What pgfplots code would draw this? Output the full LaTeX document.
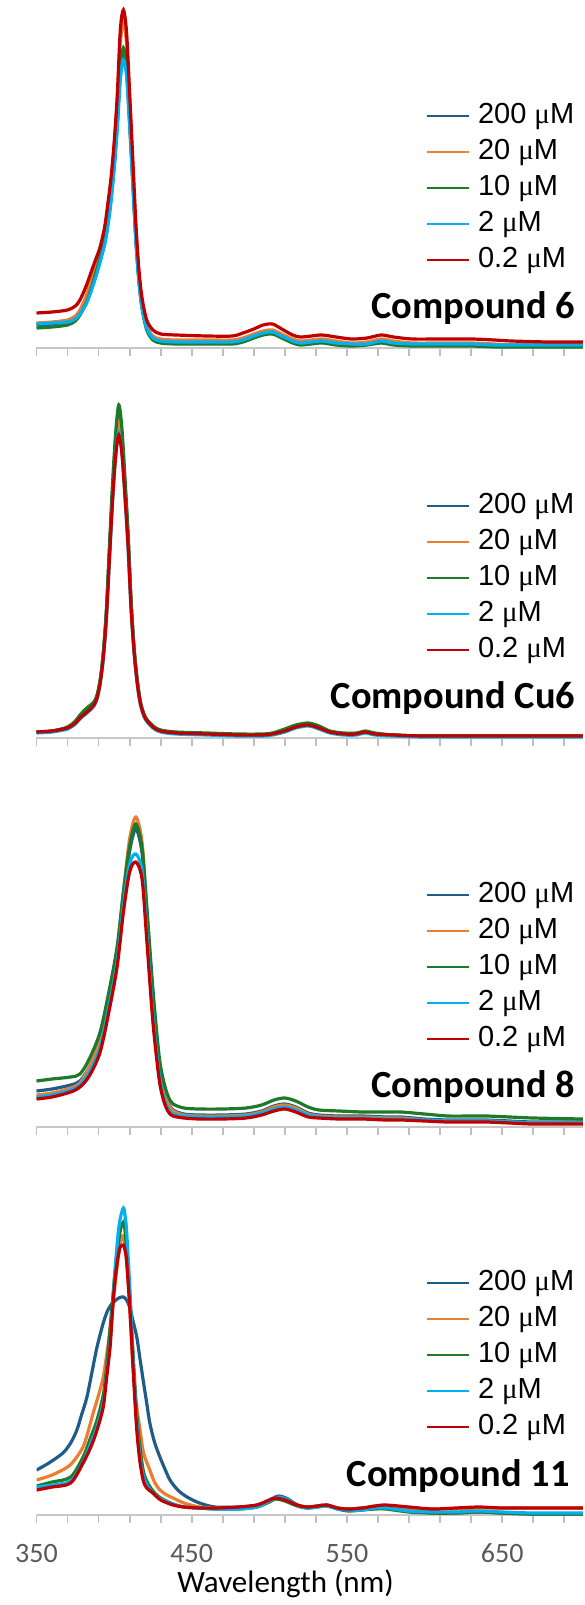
\documentclass[border=0pt]{standalone}
\usepackage{pgfplots}
\pgfplotsset{compat=1.18}
\usepackage{fontspec}
\setmainfont{Carlito}
\newfontfamily\arial{Liberation Sans}
\newfontfamily\tnr{Liberation Serif}

\definecolor{c200}{HTML}{1F5C87}
\definecolor{c20}{HTML}{ED7D31}
\definecolor{c10}{HTML}{1E7A28}
\definecolor{c2}{HTML}{00B0F0}
\definecolor{c02}{HTML}{C00000}

\tikzset{lab/.style={font=\bfseries\fontsize{19.2}{22}\selectfont, anchor=base east}}

\pgfplotsset{
  spec/.style={
    scale only axis, width=273.2pt, height=170pt,
    xmin=350, xmax=702, ymin=0, ymax=340,
    axis x line*=bottom, axis y line=none,
    x axis line style={draw=black!22, line width=0.9pt},
    tick style={draw=black!25, line width=0.9pt},
    % ticks point down (outward); labels placed from the axis line itself
    tick align=inside, major tick length=-4pt, minor tick length=-4pt,
    xtick={350,450,550,650}, minor xtick={370,390,410,430,470,490,510,530,570,590,610,630,670,690},
    xticklabels={}, ytick=\empty,
    /pgf/number format/assume math mode=true,
    xticklabel style={font=\fontsize{14}{16}\selectfont, text=black!65, anchor=base, yshift=-23.5pt},
    legend entries={200 {\tnr μ}M, 20 {\tnr μ}M, 10 {\tnr μ}M, 2 {\tnr μ}M, 0.2 {\tnr μ}M},
    legend image code/.code={\draw[##1, line width=1.1pt] (0pt,0pt) -- (21pt,0pt);},
    legend style={at={(0.7125,0.735)}, anchor=north west, draw=none, fill=none,
      inner sep=0pt, outer sep=0pt, row sep=0pt,
      font=\arial\fontsize{14.5}{18}\selectfont,
      nodes={inner sep=0pt, text height=12.5pt, text depth=5.5pt},
      /tikz/every odd column/.append style={column sep=4pt}},
    legend cell align=left,
    every axis plot/.append style={line width=1.6pt, smooth, tension=0.5},
  },
}

\begin{document}
\begin{tikzpicture}
\useasboundingbox (-18.25pt,0pt) rectangle (273.75pt,-802.5pt);

% ---------------- Compound 6
\begin{axis}[spec, at={(0pt,-174pt)}, anchor=south west]
\addplot[c200] coordinates {(350,23)(360,24)(370,26)(375,29)(378,34)(382,45)(385,57)(388,72)(391,88)(394,106)(396,125)(398,150)(400,182)(402,224)(404,276)(406,293)(408,278)(410,226)(412,168)(414,110)(416,68)(418,41)(421,21)(425,11)(430,8)(440,7)(460,7)(476,7)(483,9)(490,13)(496,16)(502,17)(508,13)(515,8)(520,6)(527,7)(534,8)(543,6)(553,4)(563,5)(572,8)(580,6)(592,4)(610,4)(630,4)(645,3)(656,3)(680,3)(702,3)};
\addplot[c20] coordinates {(350,25)(360,26)(370,28)(375,32)(378,38)(382,52)(385,68)(388,84)(391,98)(394,118)(396,140)(398,165)(400,200)(402,245)(404,305)(406,326)(408,305)(410,248)(412,185)(414,120)(416,73)(418,45)(421,22)(425,12)(430,9)(440,8)(460,8)(476,8)(483,10)(490,14)(496,17)(502,18)(508,14)(515,9)(520,7)(527,8)(534,9)(543,7)(553,5)(563,6)(572,9)(580,7)(592,5)(610,5)(630,5)(645,4)(656,3)(680,3)(702,3)};
\addplot[c10] coordinates {(350,20)(360,21)(370,23)(375,27)(378,33)(382,45)(385,58)(388,74)(391,90)(394,108)(396,128)(398,152)(400,185)(402,225)(404,280)(406,300)(408,282)(410,228)(412,170)(414,110)(416,68)(418,40)(421,18)(425,8)(430,5)(440,4)(460,4)(476,4)(483,6)(490,10)(496,13)(502,14)(508,10)(515,5)(520,3)(527,4)(534,5)(543,3)(553,2)(563,3)(572,5)(580,3)(592,2)(610,2)(630,2)(645,1)(656,1)(680,1)(702,1)};
\addplot[c2] coordinates {(350,24)(360,25)(370,26)(375,29)(378,34)(382,44)(385,56)(388,70)(391,86)(394,104)(396,122)(398,146)(400,178)(402,218)(404,268)(406,288)(408,272)(410,222)(412,165)(414,108)(416,66)(418,40)(421,20)(425,10)(430,7)(440,6)(460,6)(476,6)(483,8)(490,12)(496,15)(502,16)(508,12)(515,7)(520,5)(527,6)(534,7)(543,5)(553,4)(563,4)(572,7)(580,5)(592,4)(610,4)(630,4)(645,3)(656,3)(680,3)(702,3)};
\addplot[c02] coordinates {(350,35)(360,36)(370,38)(375,42)(378,48)(382,62)(385,75)(388,88)(391,101)(394,122)(396,145)(398,170)(400,205)(402,252)(404,318)(406,338)(408,316)(410,255)(412,190)(414,125)(416,78)(418,50)(421,28)(425,18)(430,14)(440,13)(460,12)(476,12)(483,15)(490,19)(496,23)(502,24)(508,19)(515,13)(520,11)(527,12)(534,13)(543,11)(553,9)(563,10)(572,13)(580,11)(592,9)(610,9)(630,9)(645,8)(656,7)(680,6)(702,6)};
\node[lab] at (axis cs:701.5,30) {Compound 6};
\end{axis}

% ---------------- Compound Cu6
\begin{axis}[spec, at={(0pt,-369pt)}, anchor=south west]
\addplot[c200] coordinates {(350,6)(360,7)(370,10)(375,16)(378,22)(381,26)(384,30)(387,35)(389,42)(391,57)(393,83)(395,125)(397,187)(399,247)(401,295)(403,325)(405,302)(407,253)(409,200)(411,133)(413,86)(415,56)(417,35)(420,21)(425,12)(430,7)(440,5)(460,4)(480,3)(495,3)(502,4)(510,8)(517,12)(525,14)(532,11)(539,6)(548,4)(556,4)(562,6)(568,4)(580,3)(600,2)(650,2)(702,2)};
\addplot[c20] coordinates {(350,6)(360,7)(370,10)(375,15)(378,21)(381,25)(384,29)(387,34)(389,41)(391,56)(393,81)(395,122)(397,184)(399,243)(401,292)(403,316)(405,297)(407,250)(409,198)(411,132)(413,86)(415,55)(417,35)(420,21)(425,11)(430,7)(440,5)(460,4)(480,3)(495,3)(502,4)(510,7)(517,11)(525,13)(532,10)(539,6)(548,4)(556,4)(562,6)(568,4)(580,3)(600,2)(650,2)(702,2)};
\addplot[c10] coordinates {(350,6)(360,7)(370,11)(375,17)(378,23)(381,28)(384,32)(387,36)(389,43)(391,58)(393,85)(395,128)(397,192)(399,255)(401,305)(403,333)(405,310)(407,260)(409,205)(411,136)(413,88)(415,57)(417,36)(420,21)(425,12)(430,8)(440,6)(460,5)(480,4)(495,4)(502,5)(510,9)(517,13)(525,15)(532,12)(539,7)(548,5)(556,5)(562,7)(568,5)(580,3)(600,2)(650,2)(702,2)};
\addplot[c2] coordinates {(350,5)(360,6)(370,9)(375,14)(378,19)(381,23)(384,27)(387,32)(389,39)(391,54)(393,79)(395,119)(397,178)(399,236)(401,282)(403,305)(405,286)(407,241)(409,190)(411,127)(413,83)(415,53)(417,33)(420,19)(425,10)(430,6)(440,4)(460,3)(480,2)(495,2)(502,3)(510,6)(517,10)(525,12)(532,9)(539,5)(548,3)(556,3)(562,5)(568,3)(580,2)(600,1)(650,1)(702,1)};
\addplot[c02] coordinates {(350,6)(360,7)(370,10)(375,15)(378,20)(381,24)(384,28)(387,33)(389,40)(391,55)(393,80)(395,120)(397,180)(399,238)(401,282)(403,303)(405,285)(407,242)(409,192)(411,128)(413,84)(415,54)(417,34)(420,20)(425,11)(430,7)(440,5)(460,4)(480,3)(495,3)(502,4)(510,7)(517,11)(525,13)(532,10)(539,6)(548,4)(556,4)(562,6)(568,4)(580,3)(600,2)(650,2)(702,2)};
\node[lab] at (axis cs:701.5,30) {Compound Cu6};
\end{axis}

% ---------------- Compound 8
\begin{axis}[spec, at={(0pt,-563.5pt)}, anchor=south west]
\addplot[c200] coordinates {(350,36)(360,38)(372,42)(378,46)(384,60)(391,86)(397,128)(402,172)(406,228)(410,276)(414,298)(418,274)(421,212)(425,126)(429,62)(432,38)(435,24)(438,17)(445,13)(455,12)(470,12)(485,13)(495,16)(503,21)(510,23)(517,20)(525,14)(532,12)(545,11)(560,11)(575,10)(585,10)(600,8)(615,7)(630,7)(640,7)(655,6)(670,5)(702,5)};
\addplot[c20] coordinates {(350,32)(360,34)(372,39)(378,44)(384,60)(391,88)(397,132)(402,178)(406,235)(410,288)(414,310)(418,285)(421,220)(425,130)(429,62)(432,37)(435,23)(438,16)(445,12)(455,11)(470,11)(485,12)(495,15)(503,20)(510,22)(517,19)(525,13)(532,11)(545,10)(560,10)(575,9)(585,9)(600,7)(615,6)(630,6)(640,6)(655,5)(670,4)(702,4)};
\addplot[c10] coordinates {(350,46)(360,48)(372,50)(378,53)(384,68)(391,95)(397,138)(402,181)(406,235)(410,281)(414,303)(418,279)(421,221)(425,138)(429,71)(432,45)(435,30)(438,23)(445,19)(455,18)(470,18)(485,19)(495,22)(503,27)(510,29)(517,26)(525,20)(532,17)(545,16)(560,15)(575,15)(585,15)(600,13)(615,11)(630,11)(640,11)(655,10)(670,9)(702,8)};
\addplot[c2] coordinates {(350,30)(360,32)(372,37)(378,42)(384,55)(391,80)(397,123)(402,166)(406,222)(410,263)(414,273)(418,256)(421,196)(425,112)(429,53)(432,30)(435,18)(438,13)(445,11)(455,10)(470,10)(485,11)(495,14)(503,18)(510,20)(517,17)(525,12)(532,10)(545,9)(560,9)(575,8)(585,8)(600,7)(615,6)(630,6)(640,6)(655,5)(670,4)(702,4)};
\addplot[c02] coordinates {(350,28)(360,30)(372,35)(378,40)(384,51)(391,75)(397,118)(402,161)(406,215)(410,255)(414,265)(418,248)(421,188)(425,105)(429,48)(432,26)(435,15)(438,11)(445,9)(455,8)(470,8)(485,9)(495,12)(503,16)(510,18)(517,15)(525,10)(532,9)(545,8)(560,8)(575,7)(585,7)(600,6)(615,5)(630,5)(640,5)(655,4)(670,3)(702,3)};
\node[lab] at (axis cs:701.5,30) {Compound 8};
\end{axis}

% ---------------- Compound 11
\begin{axis}[spec, at={(0pt,-757.5pt)}, anchor=south west,
  xticklabels={350,450,550,650},
  xlabel={Wavelength (nm)},
  xlabel style={at={(axis description cs:0.456,0)}, anchor=base, yshift=-38.5pt,
    font=\fontsize{15.5}{18}\selectfont}]
\addplot[c200] coordinates {(350,45)(358,52)(367,62)(372,72)(376,85)(379,100)(382.5,118)(386,145)(389,168)(393,192)(396,205)(399,212)(403,217)(406,218)(408,215)(410,208)(412,195)(414.6,178)(416.5,158)(418.7,135)(421,112)(423,92)(426,73)(429.5,58)(433,45)(436,35)(441,25)(447,18)(455,12)(465,8)(480,8)(492,10)(500,15)(506,19)(512,16)(518,10)(524,8)(531,9)(537,10)(544,7)(551,6)(560,7)(568,8)(575,7)(590,4)(605,2)(620,2)(635,3)(650,2)(670,1)(702,1)};
\addplot[c20] coordinates {(350,35)(360,40)(370,48)(375,56)(380,68)(383,82)(386.5,102)(390,120)(393,138)(395,158)(397.4,185)(399.5,215)(401.7,245)(404,272)(406,279)(407.5,262)(409,235)(410.5,195)(412,152)(414,115)(416.7,85)(419,62)(423,45)(426,33)(429.5,25)(434,20)(438,17)(445,12)(455,8)(465,7)(480,7)(492,9)(500,14)(504,17)(510,15)(518,10)(524,8)(531,9)(537,10)(544,7)(551,6)(560,7)(568,9)(575,9)(590,7)(605,6)(620,6)(635,7)(650,7)(670,7)(702,7)};
\addplot[c10] coordinates {(350,29)(360,33)(372,38)(380,58)(385,78)(389,95)(393,120)(395,145)(397,180)(399,215)(401,250)(403,275)(404.5,288)(406,293)(407,285)(408,265)(410,222)(411.5,180)(413,140)(414.6,100)(416.5,70)(418.7,45)(421,34)(425,24)(430,17)(438,11)(445,8)(455,7)(465,6)(480,6)(492,8)(500,13)(504,16)(510,14)(518,9)(524,7)(531,8)(537,9)(544,6)(551,4)(560,5)(568,6)(575,6)(590,3)(605,2)(620,2)(635,3)(650,2)(670,1)(702,1)};
\addplot[c2] coordinates {(350,28)(360,30)(372,34)(380,53)(385,72)(389,88)(393,112)(395,138)(397.4,172)(399,208)(400.6,245)(402.5,280)(404,297)(406,307)(407,300)(408,285)(410,230)(411.5,180)(413,132)(414.6,92)(416.5,60)(418.7,40)(421,30)(425,22)(430,16)(438,11)(445,8)(455,7)(465,6)(480,6)(492,8)(500,14)(506,18)(512,15)(518,10)(524,7)(531,8)(537,9)(544,6)(551,5)(560,5)(568,7)(575,7)(590,4)(605,3)(620,3)(635,4)(650,3)(670,2)(702,2)};
\addplot[c02] coordinates {(350,25)(360,28)(372,32)(380,52)(385,68)(389,85)(393,108)(395,135)(397.4,168)(399,205)(400.6,235)(402.5,258)(404,268)(406,270)(407,265)(408,255)(410,210)(411.5,168)(413,125)(414.6,85)(416.5,55)(418.7,35)(421,27)(425,22)(430,15)(438,10)(445,8)(455,7)(465,7)(480,8)(492,10)(500,15)(504,17)(510,15)(518,10)(524,8)(531,9)(537,10)(544,7)(551,6)(560,7)(568,9)(575,10)(590,8)(605,6)(620,7)(635,8)(650,7)(670,7)(702,7)};
\node[lab] at (axis cs:698,29) {Compound 11};
\end{axis}
\end{tikzpicture}
\end{document}
